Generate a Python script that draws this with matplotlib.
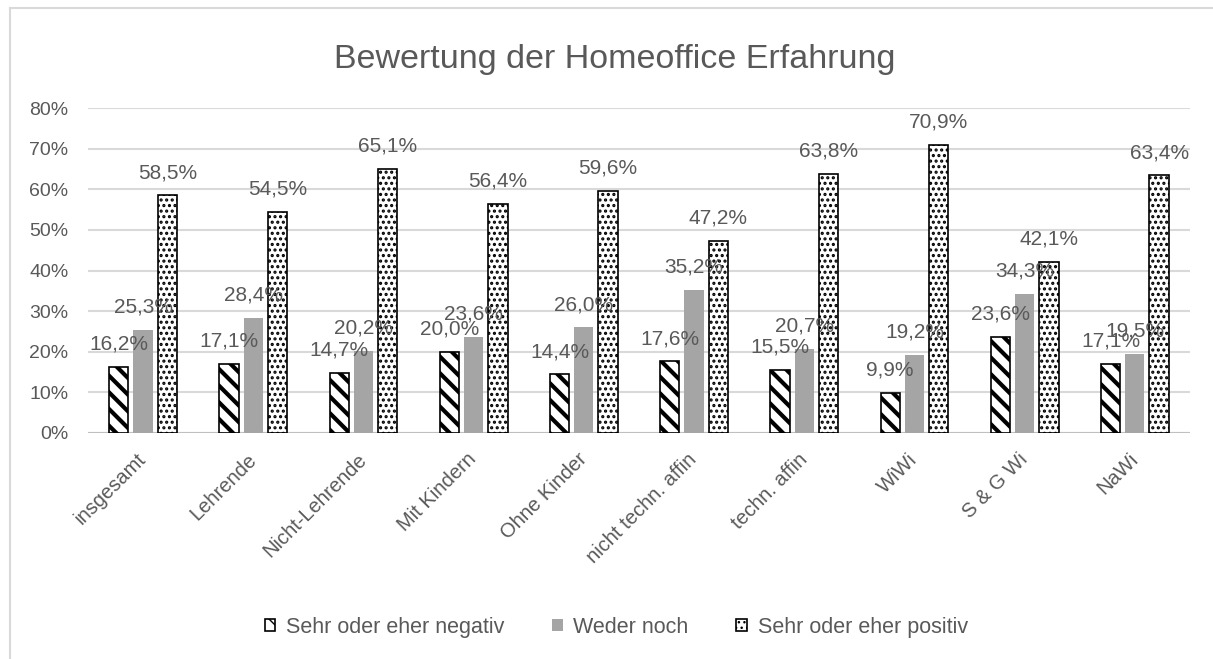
import numpy as np
import matplotlib
matplotlib.use("Agg")
import matplotlib.pyplot as plt
import matplotlib.transforms as mtransforms
from matplotlib.lines import Line2D

plt.rcParams['font.family'] = ['Liberation Sans', 'DejaVu Sans']

categories = ["insgesamt", "Lehrende", "Nicht-Lehrende", "Mit Kindern", "Ohne Kinder",
              "nicht techn. affin", "techn. affin", "WiWi", "S & G Wi", "NaWi"]
negativ = [16.2, 17.1, 14.7, 20.0, 14.4, 17.6, 15.5, 9.9, 23.6, 17.1]
weder = [25.3, 28.4, 20.2, 23.6, 26.0, 35.2, 20.7, 19.2, 34.3, 19.5]
positiv = [58.5, 54.5, 65.1, 56.4, 59.6, 47.2, 63.8, 70.9, 42.1, 63.4]
series_names = ["Sehr oder eher negativ", "Weder noch", "Sehr oder eher positiv"]
yticks = [0, 10, 20, 30, 40, 50, 60, 70, 80]

txt = "#595959"
grid = "#D9D9D9"

fig = plt.figure(figsize=(12.13, 6.59), dpi=100)
ax = fig.add_axes([0.0725, 0.343, 0.9085, 0.493])

x = np.arange(len(categories))
w = 0.175
step = 0.22

with plt.rc_context({'hatch.linewidth': 3.0}):
    b1 = ax.bar(x - step, negativ, w, color="white", edgecolor="black",
                hatch="\\\\", linewidth=1.2, zorder=3)
with plt.rc_context({'hatch.linewidth': 1.5}):
    b2 = ax.bar(x, weder, w, color="#A5A5A5", linewidth=0, zorder=3)
    b3 = ax.bar(x + step, positiv, w, color="white", edgecolor="black",
                hatch="...", linewidth=1.2, zorder=3)

for bars, vals in [(b1, negativ), (b2, weder), (b3, positiv)]:
    for rect, v in zip(bars, vals):
        ax.annotate(f"{v:.1f}%".replace(".", ","),
                    (rect.get_x() + rect.get_width() / 2, v),
                    xytext=(0, 12.5), textcoords="offset points",
                    ha="center", va="baseline", fontsize=15, color=txt, zorder=4)

ax.set_ylim(0, 80)
ax.set_xlim(-0.5, len(categories) - 0.5)
ax.set_yticks(yticks)
ax.set_yticklabels([f"{t}%" for t in yticks], fontsize=14, color=txt)
ax.set_xticks(x)
ax.set_xticklabels(categories, rotation=45, ha="right", va="center",
                   rotation_mode="anchor", fontsize=14.5, color=txt)
shift = mtransforms.ScaledTranslation(0.07, 0, fig.dpi_scale_trans)
for lab in ax.get_xticklabels():
    lab.set_transform(lab.get_transform() + shift)
ax.tick_params(axis="both", length=0)
ax.tick_params(axis="x", pad=17)
ax.tick_params(axis="y", pad=14)
ax.grid(axis="y", color=grid, linewidth=1.5, zorder=0)
for s in ax.spines.values():
    s.set_visible(False)
ax.axhline(0, color="#BFBFBF", linewidth=1.5, zorder=2)

fig.text(0.507, 0.909, "Bewertung der Homeoffice Erfahrung", ha="center", va="center",
         fontsize=24.5, color=txt)

leg = fig.legend([b1, b2, b3], series_names, loc="center", bbox_to_anchor=(0.508, 0.048),
                 ncol=3, frameon=False, fontsize=15.5, handlelength=0.5, handleheight=0.5,
                 handletextpad=0.5, columnspacing=2.2)
for t in leg.get_texts():
    t.set_color(txt)

# chart border
fig.add_artist(Line2D([10 / 1213, 10 / 1213], [0, 1 - 8 / 659], color=grid, linewidth=1.5))
fig.add_artist(Line2D([10 / 1213, 1], [1 - 8 / 659, 1 - 8 / 659], color=grid, linewidth=1.5))

fig.savefig("out.png", dpi=100)
